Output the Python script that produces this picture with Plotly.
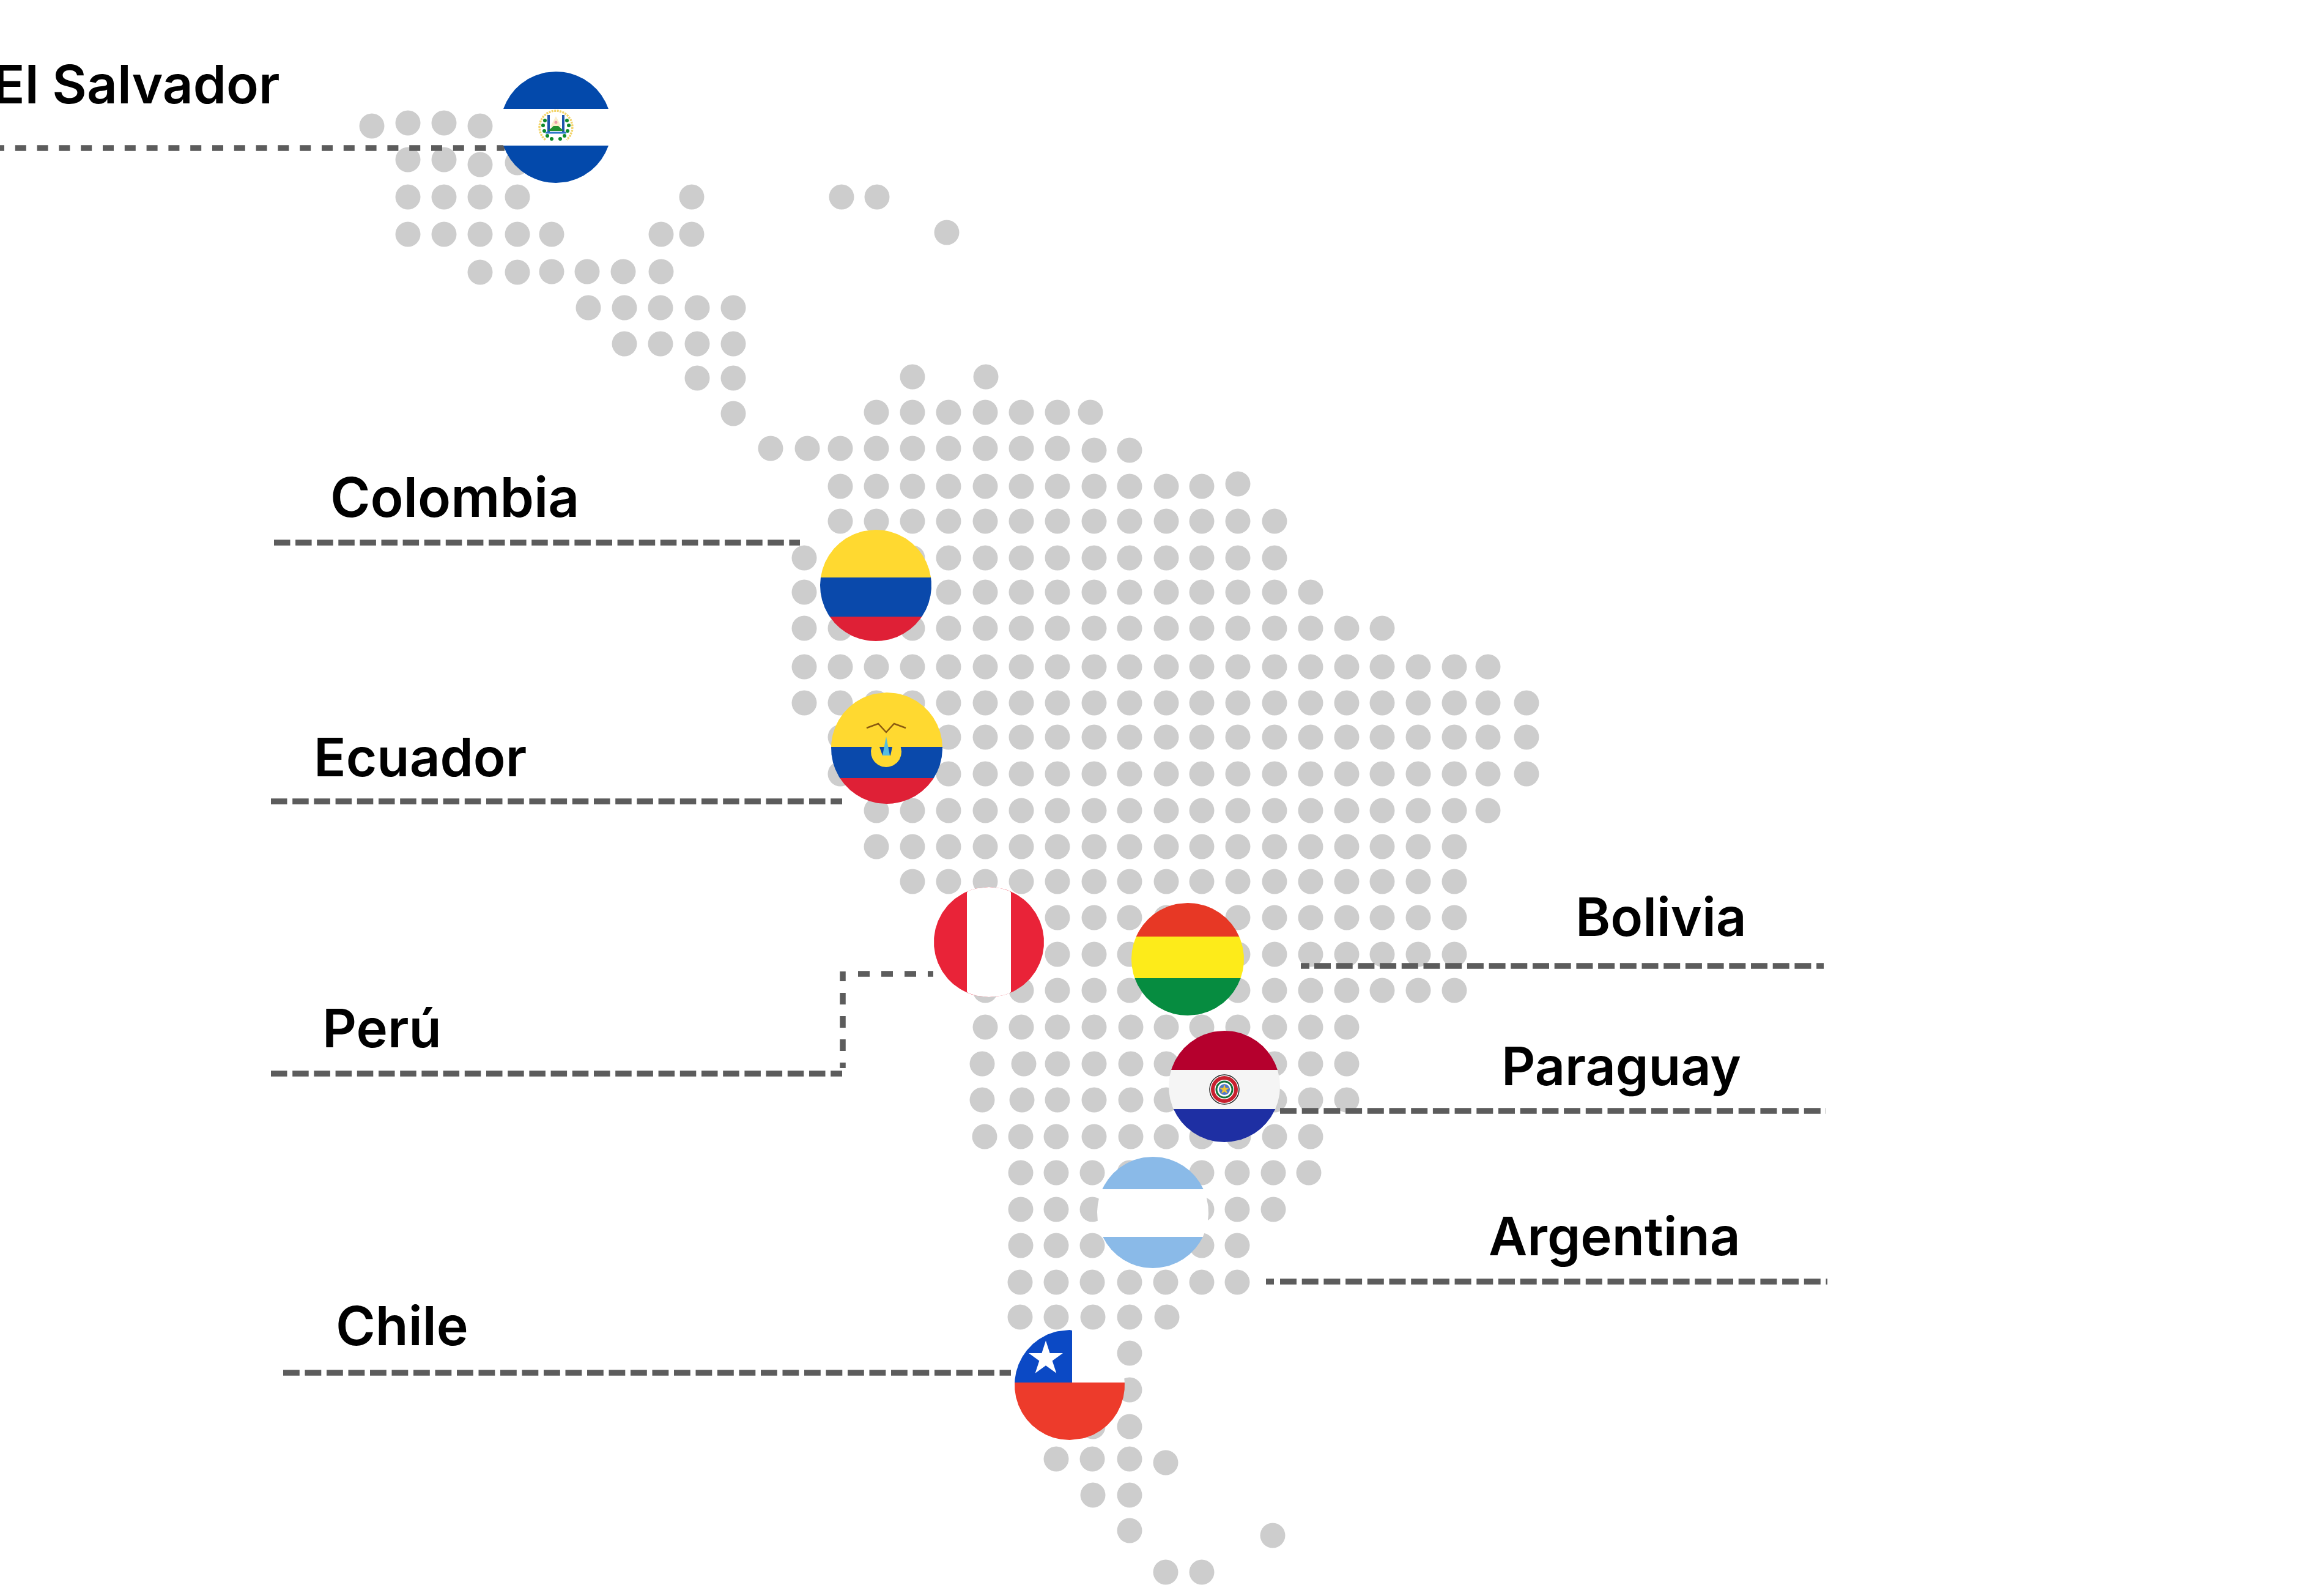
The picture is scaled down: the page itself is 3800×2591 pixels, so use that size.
import numpy as np
import plotly.graph_objects as go

WIDTH = 3800
HEIGHT = 2591

# --- grey dots of the map, one entry per row
dot_y = [206, 201, 206, 261, 269, 266, 322, 380, 383, 445, 444, 503, 562, 618, 676,
         616, 674, 733, 736, 795, 791, 852, 912, 968, 1027, 1090, 1149, 1205, 1265, 1325,
         1384, 1441, 1500, 1560, 1619, 1679, 1739, 1798, 1858, 1917, 1977, 2036, 2096,
         2153, 2212, 2272, 2332, 2385, 2391, 2444, 2502, 2510, 2570]
dot_x = [
    [608, 785], [667, 726], [846],
    [667, 726], [785], [846],
    [667, 726, 785, 846, 1131, 1376, 1434],
    [1548],
    [667, 726, 785, 846, 902, 1081, 1131],
    [785, 846],
    [902, 960, 1019, 1081],
    [962, 1021, 1080, 1140, 1199],
    [1021, 1080, 1140, 1199],
    [1140, 1199],
    [1199],
    [1492, 1612],
    [1433, 1492, 1551, 1611, 1670, 1729, 1783],
    [1260, 1320, 1374, 1433, 1492, 1551, 1611, 1670, 1729],
    [1789, 1847],
    [1374, 1433, 1492, 1551, 1611, 1670, 1729, 1789, 1847, 1907, 1965],
    [2024],
    [1374, 1433, 1492, 1551, 1611, 1670, 1729, 1789, 1847, 1907, 1965, 2024, 2084],
    [1315, 1492, 1551, 1611, 1670, 1729, 1789, 1847, 1907, 1965, 2024, 2084],
    [1315, 1551, 1611, 1670, 1729, 1789, 1847, 1907, 1965, 2024, 2084, 2143],
    [1315, 1374, 1492, 1551, 1611, 1670, 1729, 1789, 1847, 1907, 1965, 2024, 2084, 2143, 2202, 2260],
    [1315, 1374, 1433, 1492, 1551, 1611, 1670, 1729, 1789, 1847, 1907, 1965, 2024, 2084, 2143, 2202,
     2260, 2319, 2378, 2433],
    [1315, 1374, 1433, 1492, 1551, 1611, 1670, 1729, 1789, 1847, 1907, 1965, 2024, 2084, 2143, 2202,
     2260, 2319, 2378, 2433, 2496],
    [1374, 1551, 1611, 1670, 1729, 1789, 1847, 1907, 1965, 2024, 2084, 2143, 2202, 2260, 2319, 2378,
     2433, 2496],
    [1374, 1551, 1611, 1670, 1729, 1789, 1847, 1907, 1965, 2024, 2084, 2143, 2202, 2260, 2319, 2378,
     2433, 2496],
    [1433, 1492, 1551, 1611, 1670, 1729, 1789, 1847, 1907, 1965, 2024, 2084, 2143, 2202, 2260, 2319,
     2378, 2433],
    [1433, 1492, 1551, 1611, 1670, 1729, 1789, 1847, 1907, 1965, 2024, 2084, 2143, 2202, 2260, 2319, 2378],
    [1492, 1551, 1611, 1670, 1729, 1789, 1847, 1907, 1965, 2024, 2084, 2143, 2202, 2260, 2319, 2378],
    [1729, 1789, 1847, 1907, 2024, 2084, 2143, 2202, 2260, 2319, 2378],
    [1729, 1789, 1847, 1907, 2024, 2084, 2143, 2202, 2260, 2319, 2378],
    [1611, 1670, 1729, 1789, 1847, 2024, 2084, 2143, 2202, 2260, 2319, 2378],
    [1611, 1670, 1729, 1789, 1849, 1907, 1965, 2024, 2084, 2143, 2202],
    [1606, 1674, 1729, 1789, 1849, 1907, 2084, 2143, 2202],
    [1606, 1671, 1729, 1789, 1849, 1907, 2084, 2143, 2202],
    [1610, 1669, 1727, 1789, 1849, 1907, 1965, 2025, 2084, 2143],
    [1669, 1727, 1786, 1847, 1965, 2023, 2082, 2140],
    [1669, 1727, 1786, 1965, 2023, 2082],
    [1669, 1727, 1786, 1965, 2023],
    [1668, 1727, 1786, 1847, 1906, 1965, 2023],
    [1668, 1727, 1787, 1847, 1908],
    [1847],
    [1847],
    [1787, 1847],
    [1727, 1786, 1847],
    [1906],
    [1787, 1847],
    [1847],
    [2081],
    [1906, 1965],
]

# --- country labels (left edge, baseline, size)
label_names = ["El Salvador", "Colombia", "Ecuador", "Perú", "Bolivia", "Paraguay", "Argentina", "Chile"]
label_x = [-12, 540, 513, 527, 2576, 2455, 2434, 549]
label_y = [191, 867, 1291, 1734, 1552, 1795, 2074, 2221]
label_size = [87, 89, 87, 87, 87, 86, 87, 88]

# --- leader lines: x pairs, y pairs, dash pattern
leader_x = [[-11, 825], [448, 1308], [443, 1377], [443, 1377], [1378, 1378], [1378, 1378], [1403, 1526],
            [2127, 2141], [2149, 2982], [2093, 2986], [2070, 2083], [2093, 2988], [463, 1653]]
leader_y = [[242, 242], [887, 887], [1310, 1310], [1755, 1755], [1623, 1746], [1588, 1604], [1592, 1592],
            [1579, 1579], [1579, 1579], [1816, 1816], [2095, 2095], [2095, 2095], [2244, 2244]]
leader_dash = ["18px,17.8px", "26.5px,8.6px", "26.5px,8.7px", "26.5px,8.7px", "19px,19px", "solid", "19px,19px",
               "solid", "27px,8.7px", "27px,8.7px", "solid", "27px,8.7px", "26.8px,8.7px"]

# --- flags: centre, radius and stripes (y0, y1, colour, xmin, xmax)
flag_cx = [909, 1432, 1450, 1617, 1942, 2002, 1885, 1749]
flag_cy = [208, 957, 1223, 1540, 1568, 1776, 1982, 2264]
flag_r = [91, 91, 91, 90, 92, 91, 91, 90]
flag_stripes = [
    [(117, 178, "#0349ab"), (178, 238, "#ffffff"), (238, 299, "#0349ab")],
    [(866, 944, "#ffd930"), (944, 1008, "#0a49ab"), (1008, 1048, "#df2036")],
    [(1132, 1221, "#ffd930"), (1221, 1272, "#0a49ab"), (1272, 1314, "#df2036")],
    [(1450, 1630, "#e92338"), (1450, 1630, "#ffffff", 1581, 1653)],
    [(1476, 1531, "#e73825"), (1531, 1599, "#fdeb1a"), (1599, 1660, "#068c40")],
    [(1685, 1749, "#b5002d"), (1749, 1813, "#f5f5f5"), (1813, 1867, "#1e2fa3")],
    [(1891, 1944, "#8abae8"), (1944, 2022, "#ffffff"), (2022, 2073, "#8abae8")],
    [(2174, 2260, "#ffffff"), (2174, 2260, "#0b49c5", 1659, 1753), (2260, 2354, "#ed3b2b")],
]

GREY = "#cdcdcd"
LINE_GREY = "#5c5c5c"


def stripe(cx, cy, r, y0, y1, xmin=None, xmax=None):
    # polygon of a horizontal band cut by the flag circle
    ys = np.linspace(y0, y1, 80)
    half = np.sqrt(np.clip(r ** 2 - (ys - cy) ** 2, 0, None))
    left = cx - half
    right = cx + half
    if xmin is not None:
        left = np.maximum(left, xmin)
        right = np.minimum(right, xmax)
    return np.r_[left, right[::-1]], np.r_[ys, ys[::-1]]


def add_marks(fig, x, y, symbol, size, color, width=0, line_color=None):
    fig.add_trace(go.Scatter(
        x=x, y=y, mode="markers", hoverinfo="skip",
        marker=dict(symbol=symbol, size=size, color=color,
                    line=dict(width=width, color=line_color or color)),
    ))


def add_poly(fig, x, y, color):
    fig.add_trace(go.Scatter(
        x=x, y=y, mode="lines", fill="toself", fillcolor=color,
        line=dict(width=0), hoverinfo="skip",
    ))


fig = go.Figure()

# --- map
map_x = [x for xs in dot_x for x in xs]
map_y = [y for y, xs in zip(dot_y, dot_x) for _ in xs]
add_marks(fig, map_x, map_y, "circle", 41, GREY)

# --- leader lines
for xs, ys, dash in zip(leader_x, leader_y, leader_dash):
    fig.add_trace(go.Scatter(
        x=xs, y=ys, mode="lines", hoverinfo="skip",
        line=dict(color=LINE_GREY, width=9.5, dash=dash),
    ))

# --- flags
for cx, cy, r, stripes in zip(flag_cx, flag_cy, flag_r, flag_stripes):
    for s in stripes:
        px, py = stripe(cx, cy, r, *s[:2], *s[3:])
        add_poly(fig, px, py, s[2])

# El Salvador crest
ring = np.radians(np.linspace(130, 410, 60))
fig.add_trace(go.Scatter(
    x=909 + 27 * np.cos(ring), y=208 + 27 * np.sin(ring), mode="lines", hoverinfo="skip",
    line=dict(color="#f2d46a", width=3.5, dash="3px,1.5px"),
))
add_marks(fig, [891, 888, 890, 895, 902, 916, 923, 928, 930, 927],
          [197, 205, 214, 222, 227, 227, 222, 214, 205, 197], "circle", 6, "#0d8a2b")
add_marks(fig, [897, 921], [202, 202], "line-ns-open", 20, "#1f55ad", 4)
add_poly(fig, [909, 918, 900], [190, 207, 207], "#fbeecb")
add_poly(fig, [896, 905, 913, 922], [214, 206, 206, 214], "#22912f")
add_marks(fig, [909], [217], "line-ew-open", 24, "#2e78c8", 3)
add_marks(fig, [909], [200], "circle", 5, "#ea9ca8")

# Ecuador crest
add_poly(fig, *stripe(1449, 1229, 25, 1221, 1254), "#ffd930")
add_poly(fig, [1438, 1459, 1456, 1443], [1221, 1221, 1235, 1235], "#0a49ab")
add_poly(fig, [1449, 1455, 1443], [1204, 1235, 1235], "#56bde0")
fig.add_trace(go.Scatter(
    x=[1417, 1436, 1449, 1462, 1481], y=[1190, 1183, 1197, 1183, 1190], mode="lines",
    line=dict(color="#8a5a10", width=2.5), hoverinfo="skip",
))

# Paraguay crest
add_marks(fig, [2002], [1781], "circle", 48, "#ffffff", 1.5, "#222222")
add_marks(fig, [2002], [1781], "circle", 38, "#ffffff", 6, "#c8202f")
add_marks(fig, [2002], [1781], "circle", 26, "#ffffff", 3, "#14703a")
add_marks(fig, [2002], [1781], "circle", 18, "#5178c8")
add_marks(fig, [2002], [1781], "star", 12, "#f3c332")

# Chile star
add_marks(fig, [1710], [2221], "star", 42, "#ffffff")

# --- labels
fig.add_trace(go.Scatter(
    x=label_x, y=label_y, mode="text", text=label_names, hoverinfo="skip",
    textposition="top right",
    textfont=dict(family="Inter", size=label_size, color="#000000", weight=600),
))

fig.update_layout(
    width=WIDTH, height=HEIGHT,
    margin=dict(l=0, r=0, t=0, b=0),
    showlegend=False,
    paper_bgcolor="#ffffff", plot_bgcolor="#ffffff",
    xaxis=dict(range=[0, WIDTH], visible=False, fixedrange=True),
    yaxis=dict(range=[HEIGHT, 0], visible=False, fixedrange=True),
)
fig.write_html("out.html", config=dict(displayModeBar=False),
               post_script="document.body.style.margin='0';")
